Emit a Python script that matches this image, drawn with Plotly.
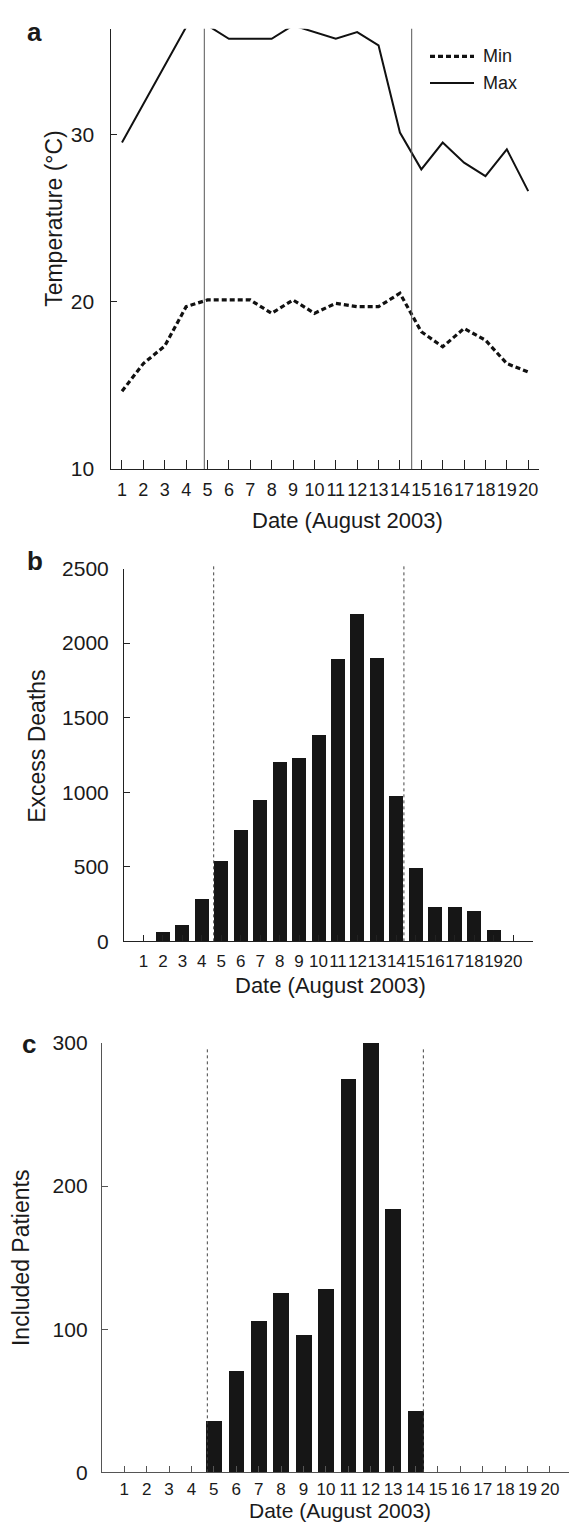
import plotly.graph_objects as go

# ---------------- data ----------------
days = list(range(1, 21))
day_labels = [str(d) for d in days]

temp_min = [14.65, 16.3, 17.35, 19.7, 20.1, 20.1, 20.1, 19.3, 20.1, 19.3,
            19.9, 19.7, 19.7, 20.5, 18.2, 17.3, 18.4, 17.7, 16.3, 15.8]
temp_max = [29.5, 31.8, 34.1, 36.4, 36.5, 35.7, 35.7, 35.7, 36.5, 36.1,
            35.7, 36.1, 35.3, 30.1, 27.9, 29.5, 28.3, 27.5, 29.1, 26.6]
excess_deaths = [0, 67, 116, 287, 540, 750, 952, 1205, 1232, 1386,
                 1894, 2198, 1903, 981, 492, 232, 232, 204, 80, 0]
included_patients = [0, 0, 0, 0, 36, 71, 106, 125, 96, 128,
                     275, 300, 184, 43, 0, 0, 0, 0, 0, 0]

temp_ticks = [10, 20, 30]
death_ticks = [0, 500, 1000, 1500, 2000, 2500]
patient_ticks = [0, 100, 200, 300]
series_names = ["Min", "Max"]

# heat-wave period markers (per panel)
period_a = [4.85, 14.55]
period_b = [4.61, 14.39]
period_c = [4.71, 14.35]

W, H = 569, 1533
FONT = "Liberation Sans, Arial, Helvetica, sans-serif"
INK = "#1a1a1a"
BAR = "#161616"
MIN_LINE = dict(color="#111111", width=3.2, dash="5px,3px")
MAX_LINE = dict(color="#111111", width=2)


def px_x(v):
    return v / W


def px_y(v):
    return 1 - v / H


fig = go.Figure()

fig.add_trace(go.Scatter(x=days, y=temp_min, name=series_names[0], mode="lines",
                         line=MIN_LINE, showlegend=False, xaxis="x", yaxis="y"))
fig.add_trace(go.Scatter(x=days, y=temp_max, name=series_names[1], mode="lines",
                         line=MAX_LINE, showlegend=False, xaxis="x", yaxis="y"))
fig.add_trace(go.Bar(x=days, y=excess_deaths, width=0.72, showlegend=False,
                     name="Excess Deaths",
                     marker=dict(color=BAR, line=dict(width=0)),
                     xaxis="x2", yaxis="y2"))
fig.add_trace(go.Bar(x=days, y=included_patients, width=0.70, showlegend=False,
                     name="Included Patients",
                     marker=dict(color=BAR, line=dict(width=0)),
                     xaxis="x3", yaxis="y3"))


def xax(domain, rng, anchor, fsize, standoff, ticklen, color):
    return dict(domain=domain, range=rng, anchor=anchor,
                tickmode="array", tickvals=days, ticktext=day_labels,
                ticks="inside", ticklen=ticklen, tickwidth=1, tickcolor=color,
                showline=True, linecolor=color, linewidth=1,
                showgrid=False, zeroline=False, tickangle=0,
                tickfont=dict(family=FONT, size=fsize, color=INK),
                ticklabelstandoff=standoff, fixedrange=True)


def yax(domain, rng, anchor, tickvals, standoff, color):
    return dict(domain=domain, range=rng, anchor=anchor,
                tickmode="array", tickvals=tickvals,
                ticks="inside", ticklen=6, tickwidth=1, tickcolor=color,
                showline=True, linecolor=color, linewidth=1,
                showgrid=False, zeroline=False,
                tickfont=dict(family=FONT, size=21, color=INK),
                ticklabelstandoff=standoff, fixedrange=True)


fig.update_layout(
    width=W, height=H,
    margin=dict(l=0, r=0, t=0, b=0),
    paper_bgcolor="white", plot_bgcolor="white",
    font=dict(family=FONT, color=INK),
    bargap=0,
    showlegend=False,
    xaxis=xax([px_x(111.3), px_x(538.9)], [0.5, 20.5], "y", 18, 4, 9, "#222222"),
    yaxis=yax([px_y(464), px_y(17)], [10, 36.3], "x", temp_ticks, 12, "#222222"),
    xaxis2=xax([px_x(124), px_x(532.5)], [0, 21], "y2", 17, 4, 6, "#222222"),
    yaxis2=yax([px_y(943.5), px_y(565)], [0, 2500], "x2", death_ticks, 10, "#222222"),
    xaxis3=xax([px_x(101.8), 1.0], [0, 20.85], "y3", 17, 1, 6, "#555555"),
    yaxis3=yax([px_y(1482.6), px_y(1046.7)], [0, 300], "x3", patient_ticks, 9, "#555555"),
)

shapes = []
for xv in period_a:
    shapes.append(dict(type="line", xref="x", yref="y domain", x0=xv, x1=xv, y0=0, y1=1,
                       line=dict(color="#555555", width=1)))
for xv in period_b:
    shapes.append(dict(type="line", xref="x2", yref="y2 domain", x0=xv, x1=xv, y0=0, y1=1.008,
                       line=dict(color="#444444", width=1, dash="dot")))
for xv in period_c:
    shapes.append(dict(type="line", xref="x3", yref="y3 domain", x0=xv, x1=xv, y0=0, y1=0.99,
                       line=dict(color="#444444", width=1, dash="dot")))

# legend (Min / Max) drawn in panel a
legend_rows = [(series_names[0], MIN_LINE, 45), (series_names[1], MAX_LINE, 72)]
for name, style, yy in legend_rows:
    shapes.append(dict(type="line", xref="paper", yref="paper",
                       x0=px_x(430), x1=px_x(474), y0=px_y(yy), y1=px_y(yy),
                       line=style))
fig.update_layout(shapes=shapes)

annots = []
for name, style, yy in legend_rows:
    annots.append(dict(text=name, x=px_x(481), y=px_y(yy), xref="paper", yref="paper",
                       xanchor="left", yanchor="middle", showarrow=False,
                       font=dict(family=FONT, size=18, color=INK)))
# panel letters
for letter, cx, cy in [("a", 34.5, 20), ("b", 35, 557), ("c", 28.5, 1048)]:
    annots.append(dict(text="<b>%s</b>" % letter, x=px_x(cx), y=px_y(cy), xref="paper", yref="paper",
                       xanchor="center", yanchor="middle", showarrow=False,
                       font=dict(family=FONT, size=26, color=INK)))
# y titles
for txt, cx, cy in [("Temperature (°C)", 54, 210), ("Excess Deaths", 37, 746),
                    ("Included Patients", 21, 1265)]:
    annots.append(dict(text=txt, x=px_x(cx), y=px_y(cy), xref="paper", yref="paper",
                       xanchor="center", yanchor="middle", showarrow=False, textangle=-90,
                       font=dict(family=FONT, size=23, color=INK)))
# x titles
for cx, cy, fs in [(347, 516, 22), (330.5, 988, 22), (340, 1521.5, 21)]:
    annots.append(dict(text="Date (August 2003)", x=px_x(cx), y=px_y(cy), xref="paper", yref="paper",
                       xanchor="center", yanchor="middle", showarrow=False,
                       font=dict(family=FONT, size=fs, color=INK)))
fig.update_layout(annotations=annots)

fig.write_html("out.html")
